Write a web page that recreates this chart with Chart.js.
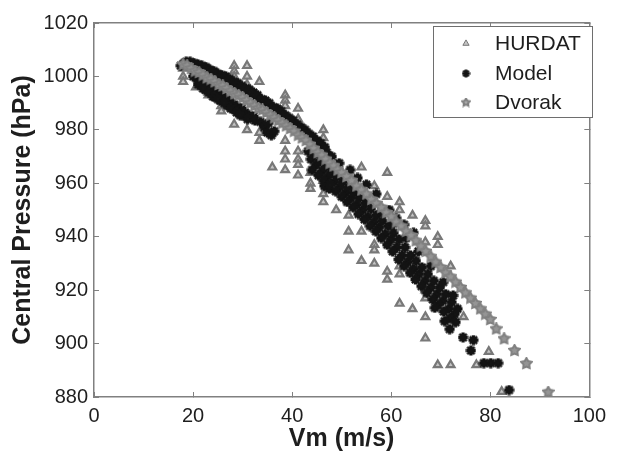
<!DOCTYPE html>
<html>
<head>
<meta charset="utf-8">
<script src="https://cdn.jsdelivr.net/npm/chart.js@4"></script>
<style>
  html, body { margin: 0; padding: 0; background: #fff; }
  #wrap { width: 618px; height: 451px; }
</style>
</head>
<body>
<div id="wrap"><canvas id="chart"></canvas></div>
<script>
// axis ticks
var xTicks = [0, 20, 40, 60, 80, 100];
var yTicks = [880, 900, 920, 940, 960, 980, 1000, 1020];

// HURDAT best track (Vm in m/s, central pressure in hPa)
var hurdatVm = [18.0, 18.0, 18.0, 20.6, 23.1, 23.1, 25.7, 25.7,
    28.3, 28.3, 28.3, 28.3, 28.3, 30.9, 30.9, 30.9, 30.9,
    33.4, 33.4, 33.4, 36.0,
    38.6, 38.6, 38.6, 38.6, 38.6, 38.6, 38.6,
    41.2, 41.2, 41.2, 41.2, 41.2, 41.2,
    43.7, 43.7, 43.7, 46.3, 46.3, 46.3, 46.3, 46.3, 48.9,
    51.4, 51.4, 51.4, 54.0, 54.0, 54.0, 56.6, 56.6, 56.6, 56.6,
    59.2, 59.2, 59.2, 59.2, 61.7, 61.7, 61.7, 61.7, 61.7, 64.3, 64.3,
    66.9, 66.9, 66.9, 66.9, 66.9, 66.9, 66.9, 69.4, 69.4, 69.4,
    72.0, 72.0, 74.6, 77.2, 79.7, 82.3];
var hurdatP = [1003, 1000, 998, 996, 994, 993, 989, 987,
    1004, 1002, 1000, 998, 982, 1004, 1000, 997, 980,
    998, 979, 976, 966,
    993, 991, 989, 976, 972, 969, 965,
    988, 984, 972, 969, 967, 963,
    964, 960, 958, 980, 977, 961, 956, 953, 950,
    948, 942, 935, 966, 942, 931, 959, 937, 935, 930,
    964, 955, 927, 924, 953, 950, 929, 926, 915, 948, 913,
    946, 944, 938, 920, 917, 910, 902, 940, 937, 892,
    929, 892, 910, 892, 897, 882];

// Model: upper branch, early lower branch, hook, main lower branch, tail
var modelVm = [17.5, 18.2, 19.0, 19.8, 20.6, 21.4, 22.2, 23.0, 23.8, 24.6, 25.4, 26.2,
    27.0, 27.8, 28.6, 29.4, 30.2, 31.0, 31.8, 32.6, 33.4, 34.2, 35.0, 35.8,
    36.6, 37.4, 38.2, 39.0, 39.8, 40.6, 41.4, 42.2, 43.0, 43.8, 44.6, 45.4,
    46.2, 47.0, 48.0, 49.5, 51.7, 53.2, 55.0, 57.0, 59.6, 61.0, 62.6, 64.5,
    18.6, 19.4, 20.2, 21.0, 21.8, 22.6, 23.4, 24.2, 25.0, 25.8, 26.6, 27.4,
    28.2, 29.0, 29.8, 30.6, 31.4, 32.2, 33.0, 33.8, 34.6, 35.4, 36.2, 37.0,
    37.8, 38.6, 39.4, 40.2, 41.0, 41.8, 42.6, 43.4, 44.2, 45.0, 45.8, 46.6,
    20.0, 20.8, 21.6, 22.4, 23.0, 23.8, 24.5, 25.2, 26.0, 26.8, 27.5, 28.3,
    29.0, 29.8, 30.5, 31.3, 32.2, 22.5, 24.0, 25.5, 27.0, 28.5, 30.0,
    21.0, 22.0, 23.2, 24.3, 25.0, 26.3, 27.6, 28.8, 29.5, 31.0, 32.5,
    33.6, 34.4, 35.0, 35.8, 36.4, 35.2,
    43.2, 43.8, 44.5, 44.9, 45.6, 46.0, 46.7, 47.2, 47.9, 48.5, 49.0, 49.6,
    50.2, 50.8, 51.3, 51.9, 52.5, 53.0, 53.6, 54.2, 54.8, 55.3, 55.9, 56.5,
    57.0, 57.6, 58.2, 58.8, 59.4, 60.0, 60.5, 61.1, 61.6, 62.2, 62.8, 63.3,
    63.9, 64.5, 65.0, 65.6, 66.2, 66.8, 67.4, 68.0, 68.6, 69.2, 69.8, 70.4,
    71.0, 71.6, 72.2, 72.8, 73.4, 46.5, 47.5,
    44.0, 45.3, 46.4, 47.6, 48.8, 50.0, 51.1, 52.3, 53.4, 54.6, 55.7, 56.9,
    58.0, 59.2, 60.3, 61.5, 62.6, 63.8, 64.9, 66.1, 67.2, 68.4, 69.5, 70.6,
    71.8, 73.0,
    48.0, 50.5, 53.0, 55.5, 58.0, 60.5, 63.0, 65.5, 68.0, 70.5, 72.5,
    68.8, 70.8, 71.8, 74.5, 76.6, 76.1, 78.7, 80.1, 81.6, 83.8];
var modelP = [1004, 1005, 1005, 1004.5, 1004, 1003.5, 1003, 1002.5, 1001.5, 1001, 1000, 999.5,
    998.5, 997.5, 997, 996, 995, 994, 993, 992, 991, 990, 989, 988,
    987, 986, 985, 984, 982.5, 981.5, 980.5, 979, 978, 976.5, 975.5, 974,
    973, 971.5, 970, 967.5, 965, 962, 959.5, 956, 950, 947, 944.5, 941.5,
    1005.5, 1005.5, 1005, 1004.5, 1004, 1003.5, 1002.5, 1002, 1001, 1000.5, 1000, 999,
    998, 997.5, 996.5, 995.5, 995, 994, 993, 991.5, 991, 990, 988.5, 988,
    987, 985.5, 984.5, 983.5, 982, 981, 980, 978.5, 977.5, 976, 975, 973.5,
    1000, 999, 998.5, 997.5, 996, 995.5, 994, 993.5, 992.5, 991.5, 990.5, 989.5,
    988.5, 988, 986.5, 985.5, 985, 995, 992.5, 991, 989, 987.5, 985.5,
    997, 995.5, 994, 992.5, 991.5, 990, 988, 986.5, 985.5, 984, 983.5,
    983, 981, 979, 978, 979.5, 982.5,
    972, 969, 971, 967, 968.5, 964.5, 966, 962.5, 964, 960.5, 962.5, 958.5,
    960.5, 956.5, 958.5, 954.5, 956.5, 952, 954.5, 950, 952.5, 947.5, 950.5, 945.5,
    948, 943.5, 946, 941, 944, 939, 941.5, 936, 939, 933, 936, 930.5,
    933, 928, 931, 926, 928.5, 923.5, 926, 921, 923.5, 918.5, 921, 916,
    918.5, 913, 915.5, 911, 913, 959, 958,
    965, 963, 961, 959.5, 957, 955, 953, 951, 948.5, 946.5, 944, 942,
    939.5, 937, 934.5, 931.5, 929, 926.5, 924, 921.5, 919, 916.5, 914.5, 912,
    909.5, 908,
    966.5, 962.5, 958, 954, 949.5, 945, 939.5, 934.5, 929, 923, 918,
    913.4, 908.4, 905.4, 902.3, 901.3, 897.4, 892.7, 892.7, 892.7, 882.6];

// Dvorak
var dvorakVm = [18.0, 18.8, 19.6, 20.4, 21.2, 22.0, 22.8, 23.6, 24.4, 25.2, 26.0, 26.8,
    27.6, 28.4, 29.2, 30.0, 30.8, 31.6, 32.4, 33.2, 34.0, 34.8, 35.6, 36.4,
    37.2, 38.0, 38.8, 39.6, 40.4, 41.2, 42.0, 42.8, 43.6, 44.4, 45.2, 46.0,
    46.8, 47.6, 48.4, 49.2, 50.0, 51.0, 52.0, 53.0, 54.0, 55.0, 56.0, 57.0,
    58.0, 59.0, 60.0, 61.0, 62.0, 63.0, 64.0, 65.0, 66.0, 67.0, 68.0, 69.0,
    70.0, 71.0, 72.0, 73.0, 74.0, 75.0, 76.0, 77.0, 78.0, 79.0, 80.0,
    81.2, 82.8, 84.9, 87.3, 91.7];
var dvorakP = [1004.5, 1004, 1003, 1002, 1001.5, 1000.5, 999.5, 999, 998, 997, 996.5, 995.5,
    994.5, 993.5, 993, 992, 991, 990, 989, 988, 987.5, 986.5, 985.5, 984.5,
    983.5, 982.5, 981.5, 980.5, 979.5, 978, 977, 976, 974.5, 973, 971.5, 970.5,
    969, 967.5, 966.5, 965, 964, 962.5, 961, 959, 957.5, 956, 954, 952.5,
    951, 949, 947.5, 945.5, 944, 942, 940.5, 938.5, 936.5, 934.5, 932.5, 930.5,
    928.5, 926.5, 925, 923, 921, 919, 917, 915, 913, 911, 909,
    905.5, 901.8, 897.4, 892.5, 881.8];

function pairs(xs, ys) {
    var out = [];
    for (var i = 0; i < xs.length; i++) {
        out.push({x: xs[i], y: ys[i]});
    }
    return out;
}

// gray pentagram, like matlab 'p'
function makeStar(size, stroke, fill) {
    var c = document.createElement('canvas');
    c.width = size;
    c.height = size;
    var g = c.getContext('2d');
    var cx = size / 2, cy = size / 2, R = size / 2 - 1, r = R * 0.55;
    g.beginPath();
    for (var i = 0; i < 10; i++) {
        var ang = -Math.PI / 2 + i * Math.PI / 5;
        var rr = (i % 2) ? r : R;
        g.lineTo(cx + rr * Math.cos(ang), cy + rr * Math.sin(ang));
    }
    g.closePath();
    g.fillStyle = fill;
    g.fill();
    g.strokeStyle = stroke;
    g.lineWidth = 2;
    g.stroke();
    return c;
}

// fat asterisk for the model points
function makeBlob(size, color) {
    var c = document.createElement('canvas');
    c.width = size;
    c.height = size;
    var g = c.getContext('2d');
    var m = size / 2, a = size / 2 - 0.5, d = a * 0.72;
    g.strokeStyle = color;
    g.lineWidth = size * 0.3;
    g.beginPath();
    g.moveTo(m - a, m); g.lineTo(m + a, m);
    g.moveTo(m, m - a); g.lineTo(m, m + a);
    g.stroke();
    g.lineWidth = size * 0.22;
    g.beginPath();
    g.moveTo(m - d, m - d); g.lineTo(m + d, m + d);
    g.moveTo(m - d, m + d); g.lineTo(m + d, m - d);
    g.stroke();
    return c;
}

var grayTri = '#787878';
var grayStar = '#808080';
var black = '#141414';
var starImg = makeStar(13, grayStar, '#959595');
var starImgSmall = makeStar(10, grayStar, '#a8a8a8');
var blobImg = makeBlob(11, black);
var blobImgSmall = makeBlob(9, black);

var fontFam = "'Liberation Sans', Arial, Helvetica, sans-serif";

// legend box drawn inside the plot, top right
var boxLegend = {
    id: 'boxLegend',
    afterDraw: function(chart) {
        var ctx = chart.ctx;
        var x0 = 433, y0 = 26, w = 159, h = 91;
        ctx.save();
        ctx.fillStyle = '#fff';
        ctx.fillRect(x0, y0, w, h);
        ctx.strokeStyle = '#6e6e6e';
        ctx.lineWidth = 1;
        ctx.strokeRect(x0 + 0.5, y0 + 0.5, w, h);
        var rows = [43.5, 73.5, 102.5];
        var marks = [null, blobImgSmall, starImgSmall];
        chart.data.datasets.forEach(function(ds, i) {
            var mx = 466, my = rows[i];
            if (marks[i]) {
                ctx.drawImage(marks[i], mx - marks[i].width / 2, my - marks[i].height / 2);
            } else {
                ctx.strokeStyle = ds.pointBorderColor;
                ctx.fillStyle = ds.pointBackgroundColor;
                Chart.helpers.drawPoint(ctx, {
                    pointStyle: ds.pointStyle,
                    radius: 3.6,
                    borderWidth: ds.pointBorderWidth,
                    rotation: 0
                }, mx, my);
            }
            ctx.fillStyle = '#1e1e1e';
            ctx.font = '21px ' + fontFam;
            ctx.textBaseline = 'middle';
            ctx.textAlign = 'left';
            ctx.fillText(ds.label, 495, my + 1);
        });
        ctx.restore();
    }
};

var tickGrid = {
    display: true,
    drawOnChartArea: false,
    drawTicks: true,
    tickLength: -5,
    color: '#808080',
    lineWidth: 1
};
var frameBorder = { display: true, color: '#808080', width: 1.5 };
var plainNum = function(v) { return String(v); };

new Chart(document.getElementById('chart'), {
    type: 'scatter',
    data: {
        datasets: [{
            label: 'HURDAT',
            data: pairs(hurdatVm, hurdatP),
            pointStyle: 'triangle',
            pointRadius: 4.5,
            pointBorderWidth: 2.2,
            pointBorderColor: grayTri,
            pointBackgroundColor: '#c4c4c4',
            order: 3
        }, {
            label: 'Model',
            data: pairs(modelVm, modelP),
            pointStyle: blobImg,
            pointBorderColor: black,
            pointBackgroundColor: black,
            order: 2
        }, {
            label: 'Dvorak',
            data: pairs(dvorakVm, dvorakP),
            pointStyle: starImg,
            pointBorderColor: grayStar,
            pointBackgroundColor: grayStar,
            order: 1
        }]
    },
    options: {
        responsive: true,
        maintainAspectRatio: false,
        animation: false,
        events: [],
        layout: { padding: { top: 18, right: 19, left: 0, bottom: 0 } },
        plugins: {
            legend: { display: false },
            tooltip: { enabled: false }
        },
        scales: {
            x: {
                type: 'linear',
                position: 'bottom',
                min: 0,
                max: 100,
                afterBuildTicks: function(s) { s.ticks = xTicks.map(function(v) { return {value: v}; }); },
                afterFit: function(s) { s.height = 54; },
                grid: tickGrid,
                border: frameBorder,
                ticks: {
                    padding: 12,
                    color: '#1e1e1e',
                    font: { family: fontFam, size: 20 },
                    maxRotation: 0,
                    callback: plainNum
                },
                title: {
                    display: true,
                    text: 'Vm (m/s)',
                    color: '#1e1e1e',
                    font: { family: fontFam, size: 25, weight: 'bold', lineHeight: 1 },
                    padding: { top: 0, bottom: -1 }
                }
            },
            y: {
                type: 'linear',
                position: 'left',
                min: 880,
                max: 1020,
                afterBuildTicks: function(s) { s.ticks = yTicks.map(function(v) { return {value: v}; }); },
                afterFit: function(s) { s.width = 94; },
                grid: tickGrid,
                border: frameBorder,
                ticks: {
                    padding: 11,
                    color: '#1e1e1e',
                    font: { family: fontFam, size: 20 },
                    callback: plainNum
                },
                title: {
                    display: true,
                    text: 'Central Pressure (hPa)',
                    color: '#1e1e1e',
                    font: { family: fontFam, size: 25, weight: 'bold', lineHeight: 1 },
                    padding: { top: 11, bottom: 0 }
                }
            },
            xTop: {
                type: 'linear',
                position: 'top',
                min: 0,
                max: 100,
                afterBuildTicks: function(s) { s.ticks = xTicks.map(function(v) { return {value: v}; }); },
                afterFit: function(s) { s.height = 0; },
                grid: tickGrid,
                border: frameBorder,
                ticks: { display: false }
            },
            yRight: {
                type: 'linear',
                position: 'right',
                min: 880,
                max: 1020,
                afterBuildTicks: function(s) { s.ticks = yTicks.map(function(v) { return {value: v}; }); },
                afterFit: function(s) { s.width = 0; },
                grid: tickGrid,
                border: frameBorder,
                ticks: { display: false }
            }
        }
    },
    plugins: [boxLegend]
});
</script>
</body>
</html>
